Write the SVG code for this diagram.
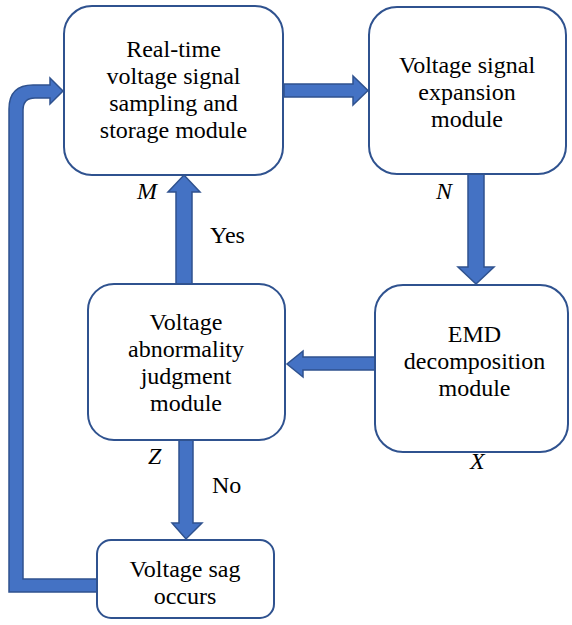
<svg xmlns="http://www.w3.org/2000/svg" width="572" height="625" viewBox="0 0 572 625">
<rect width="572" height="625" fill="#fff"/>
<g id="connectors" fill="#4472C4" stroke="#2F528F" stroke-width="1.5">
<polygon points="284,84 353,84 353,76 368,90.5 353,105 353,97 284,97"/>
<polygon points="468,174 484,174 484,267 494,267 476,284 458,267 468,267"/>
<polygon points="375,357 303,357 303,351 287,364 303,377 303,370 375,370"/>
<polygon points="176,284 176,192 168,192 184,175 200,192 192,192 192,284"/>
<polygon points="179,440 193,440 193,523 202,523 186,539 172,523 179,523"/>
<path d="M97,579 L23,579 L23,110 Q23,98 35,98 L50,98 L50,104 L63,91 L50,78 L50,85 L33,85 Q9,85 9,109 L9,592 L97,592 Z"/>
</g>
<g id="n1">
<rect x="64" y="6" width="219" height="169" rx="28" fill="#fff" stroke="#2F528F" stroke-width="2"/>
<text x="173.5" y="57" font-family="Liberation Serif" font-size="24" text-anchor="middle">Real-time</text>
<text x="173.5" y="84" font-family="Liberation Serif" font-size="24" text-anchor="middle">voltage signal</text>
<text x="173.5" y="111" font-family="Liberation Serif" font-size="24" text-anchor="middle">sampling and</text>
<text x="173.5" y="138" font-family="Liberation Serif" font-size="24" text-anchor="middle">storage module</text>
</g>
<g id="n2">
<rect x="369" y="7" width="197" height="167" rx="28" fill="#fff" stroke="#2F528F" stroke-width="2"/>
<text x="467" y="73" font-family="Liberation Serif" font-size="24" text-anchor="middle">Voltage signal</text>
<text x="467" y="100" font-family="Liberation Serif" font-size="24" text-anchor="middle">expansion</text>
<text x="467" y="127" font-family="Liberation Serif" font-size="24" text-anchor="middle">module</text>
</g>
<g id="n3">
<rect x="375" y="285" width="193" height="167" rx="28" fill="#fff" stroke="#2F528F" stroke-width="2"/>
<text x="474.5" y="342" font-family="Liberation Serif" font-size="24" text-anchor="middle">EMD</text>
<text x="474.5" y="369" font-family="Liberation Serif" font-size="24" text-anchor="middle">decomposition</text>
<text x="474.5" y="396" font-family="Liberation Serif" font-size="24" text-anchor="middle">module</text>
</g>
<g id="n4">
<rect x="88" y="284" width="197" height="156" rx="26" fill="#fff" stroke="#2F528F" stroke-width="2"/>
<text x="186" y="330" font-family="Liberation Serif" font-size="24" text-anchor="middle">Voltage</text>
<text x="186" y="357" font-family="Liberation Serif" font-size="24" text-anchor="middle">abnormality</text>
<text x="186" y="384" font-family="Liberation Serif" font-size="24" text-anchor="middle">judgment</text>
<text x="186" y="411" font-family="Liberation Serif" font-size="24" text-anchor="middle">module</text>
</g>
<g id="n5">
<rect x="97" y="540" width="177" height="78" rx="14" fill="#fff" stroke="#2F528F" stroke-width="2"/>
<text x="185" y="577" font-family="Liberation Serif" font-size="24" text-anchor="middle">Voltage sag</text>
<text x="185" y="604" font-family="Liberation Serif" font-size="24" text-anchor="middle">occurs</text>
</g>
<g id="labels">
<text x="137" y="199" font-family="Liberation Serif" font-size="24" font-style="italic">M</text>
<text x="436" y="199" font-family="Liberation Serif" font-size="24" font-style="italic">N</text>
<text x="148" y="464" font-family="Liberation Serif" font-size="24" font-style="italic">Z</text>
<text x="470" y="469" font-family="Liberation Serif" font-size="24" font-style="italic">X</text>
<text x="210" y="243" font-family="Liberation Serif" font-size="24">Yes</text>
<text x="212" y="493" font-family="Liberation Serif" font-size="24">No</text>
</g>
</svg>
